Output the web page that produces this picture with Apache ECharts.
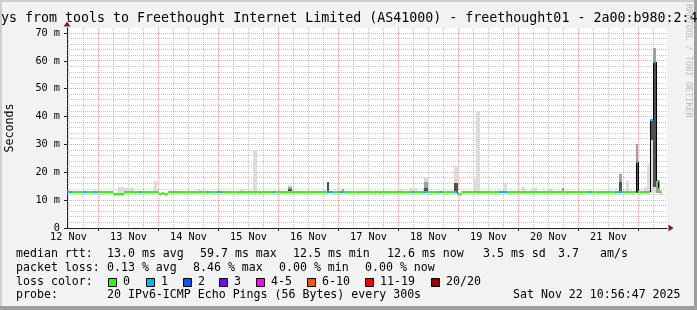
<!DOCTYPE html>
<html><head><meta charset="utf-8">
<script src="https://cdn.jsdelivr.net/npm/echarts@6.0.0/dist/echarts.min.js"></script>
<style>html,body{margin:0;padding:0;background:#f2f2f2}#c{width:697px;height:310px}</style>
</head><body><div id="c"></div><script>
// ---------- data (hours since 12 Nov 00:00) ----------
const xMin = 11.4, xMax = 251.4;
const yMax = 71.8;
const dayLabels = ['12 Nov','13 Nov','14 Nov','15 Nov','16 Nov','17 Nov','18 Nov','19 Nov','20 Nov','21 Nov'];
const dayLabelHours = [12,36,60,84,108,132,156,180,204,228];
const midnightHours = [24,48,72,96,120,144,168,192,216,240];
const yTicks = [0,10,20,30,40,50,60,70];
const yTickLabels = ['0','10 m','20 m','30 m','40 m','50 m','60 m','70 m'];

// median rtt (ms): segment start hour, value, lost pings
const medStart = [11.3,13.3,18.3,19.2,22.2,23.4,29.9,34.1,40.1,41.3,48.0,49.5,50.1,51.9,67.5,68.3,71.3,73.3,93.7,94.5,115.3,117.9,120.1,121.9,149.3,150.1,153.7,155.3,160.1,161.2,166.3,167.3,169.1,184.1,187.3,220.0,221.2,231.5,233.9,238.8,239.8,244.6,245.6,246.9,247.9,248.7];
const medValue = [12.8,12.8,12.8,12.8,12.8,12.8,12.2,12.8,12.8,12.8,12.2,12.6,12.2,12.8,12.8,12.8,12.8,12.8,12.8,12.8,12.8,12.8,12.8,12.8,12.8,12.8,12.8,12.8,12.8,12.8,12.8,12.1,12.8,12.8,12.8,12.8,12.8,12.8,12.8,23.8,12.8,38.8,59.7,16.4,13.9,12.8];
const medLoss  = [1,0,1,0,1,0,0,0,1,0,0,0,0,0,1,0,1,0,1,0,1,0,1,0,1,0,1,0,1,0,1,0,0,1,0,1,0,1,0,1,0,1,1,0,0,0];
const medEnd = 249.5;

// smoke (ping spread): [start hour, end hour, low ms, high ms]
const smokeLight = [
  [31.7,34.1,12.6,14.8],[34.1,38.1,12.6,14.2],[46.1,47.3,12.6,16.9],[63.7,65.3,12.6,13.5],
  [80.5,82.1,12.6,13.9],[85.7,87.3,12.6,28.0],[99.9,101.3,12.6,15.4],[143.3,145.7,12.6,13.9],
  [148.0,151.3,12.6,14.5],[154.0,155.6,12.6,18.4],[166.0,167.6,12.6,22.3],[173.7,175.0,12.6,18.4],
  [175.0,176.4,12.6,41.7],[186.0,187.3,12.6,16.0],[193.3,194.5,12.6,14.8],[197.3,199.3,12.6,14.2],
  [203.3,205.7,12.6,13.6],[234.9,236.1,12.6,16.9],[242.0,243.3,12.6,14.8],[243.3,244.6,12.6,23.0],
  [244.6,245.6,12.6,31.6],[245.6,246.9,12.6,14.8]
];
const smokeMid = [
  [99.9,101.3,12.6,14.6],[121.3,122.1,12.6,13.9],[154.0,155.6,12.6,16.5],[209.3,210.1,12.6,14.2],
  [232.0,233.3,12.6,19.4],[238.8,239.8,23.8,30.0],[245.6,246.9,59.7,64.5],[246.9,248.5,12.6,17.2]
];
const smokeDark = [
  [99.9,101.3,12.6,14.0],[115.3,116.3,12.6,16.6],[154.0,155.6,12.6,14.5],[166.0,167.6,12.6,16.0],
  [232.0,233.3,12.6,16.6],[238.8,239.8,12.6,23.8],[244.6,245.6,31.6,38.8],[245.6,246.9,14.8,59.7]
];

const lossLabels = ['0','1','2','3','4-5','6-10','11-19','20/20'];
const lossColors = ['#26ff00','#00b8ff','#0059ff','#7e00ff','#ff00ff','#ff5500','#ff0000','#a00000'];

const titleText = 'ys from tools to Freethought Internet Limited (AS41000) - freethought01 - 2a00:b980:2:4';
const rttRow = [['median rtt:',16],['13.0 ms avg',107],['59.7 ms max',200],['12.5 ms min',293],['12.6 ms now',387],['3.5 ms sd',483],['3.7',558],['am/s',600]];
const lossRow = [['packet loss:',16],['0.13 % avg',107],['8.46 % max',193],['0.00 % min',279],['0.00 % now',365]];
const probeRow = [['probe:',16],['20 IPv6-ICMP Echo Pings (56 Bytes) every 300s',107],['Sat Nov 22 10:56:47 2025',513]];

// ---------- build ----------
function lossColor(n){
  if(n<=0) return lossColors[0];
  if(n===1) return lossColors[1];
  if(n===2) return lossColors[2];
  if(n===3) return lossColors[3];
  if(n<=5) return lossColors[4];
  if(n<=10) return lossColors[5];
  if(n<=19) return lossColors[6];
  return lossColors[7];
}
const medSegs = medStart.map((s,i)=>[s, i+1<medStart.length?medStart[i+1]:medEnd, medValue[i], medLoss[i]]);

const MONO = 'DejaVu Sans Mono';
const minorC = 'rgba(143,143,143,0.5)', majorC = 'rgba(222,79,79,0.5)';
const vGrid = [];
for(let h=12; h<xMax; h+=6) vGrid.push([h, 0]);
const hGrid = [];
for(let v=2; v<yMax; v+=2) hGrid.push([xMin, v]);

function vGridRender(params, api){
  const h = api.value(0);
  const x = Math.floor(api.coord([h, 0])[0]) + 0.5;
  const cs = params.coordSys;
  return {type:'line', shape:{x1:x, y1:cs.y, x2:x, y2:cs.y+cs.height},
    style:{stroke:(h%24===0)?majorC:minorC, lineWidth:1, lineDash:[1,1]}};
}
function hGridRender(params, api){
  const v = api.value(1);
  const y = Math.floor(api.coord([xMin, v])[1]) + 0.5;
  const cs = params.coordSys;
  return {type:'line', shape:{x1:cs.x, y1:y, x2:cs.x+cs.width, y2:y},
    style:{stroke:(Math.round(v)%10===0)?majorC:minorC, lineWidth:1, lineDash:[1,1]}};
}
function rectRender(color){
  return function(params, api){
    const p0 = api.coord([api.value(0), api.value(3)]);
    const p1 = api.coord([api.value(1), api.value(2)]);
    const x0 = Math.round(p0[0]), x1 = Math.round(p1[0]);
    const y0 = Math.round(p0[1]), y1 = Math.round(p1[1]);
    return {type:'rect', shape:{x:x0, y:y0, width:Math.max(1,x1-x0), height:Math.max(1,y1-y0)}, style:{fill:color}};
  };
}
function medRender(params, api){
  const i = params.dataIndex;
  const p0 = api.coord([api.value(0), api.value(2)]);
  const p1 = api.coord([api.value(1), api.value(2)]);
  const x0 = Math.round(p0[0]), x1 = Math.round(p1[0]);
  const yc = Math.round(p0[1]);
  const children = [];
  if(i>0){
    const prev = medSegs[i-1][2];
    if(Math.abs(prev - api.value(2)) > 2){
      const yp = Math.round(api.coord([api.value(0), prev])[1]);
      children.push({type:'line', shape:{x1:x0+0.5, y1:yp, x2:x0+0.5, y2:yc}, style:{stroke:'#000', lineWidth:1}});
    }
  }
  children.push({type:'rect', shape:{x:x0, y:yc-1, width:Math.max(1,x1-x0), height:2}, style:{fill:lossColor(api.value(3))}});
  return {type:'group', children:children};
}

const graphics = [];
function txt(t, x, y, size){
  graphics.push({type:'text', x:x, y:y, z:100, silent:true,
    style:{text:t, fill:'#000', font:size+'px "'+MONO+'"',
      align:'left', verticalAlign:'middle', textAlign:'left', textVerticalAlign:'middle'}});
}
// frame shading
graphics.push({type:'rect', shape:{x:0,y:0,width:697,height:2}, style:{fill:'#cfcfcf'}, z:50, silent:true});
graphics.push({type:'rect', shape:{x:0,y:0,width:2,height:310}, style:{fill:'#cfcfcf'}, z:50, silent:true});
graphics.push({type:'rect', shape:{x:694,y:0,width:3,height:310}, style:{fill:'#9e9e9e'}, z:50, silent:true});
graphics.push({type:'rect', shape:{x:0,y:306,width:697,height:4}, style:{fill:'#9e9e9e'}, z:50, silent:true});

txt(titleText, 1, 19, 13.3);
graphics.push({type:'text', x:10, y:128, rotation:Math.PI/2, z:100, silent:true,
  style:{text:'Seconds', fill:'#000', font:'11.6px "'+MONO+'"', align:'center', verticalAlign:'middle', textAlign:'center', textVerticalAlign:'middle'}});
graphics.push({type:'text', x:688, y:61, rotation:-Math.PI/2, z:100, silent:true,
  style:{text:'RRDTOOL / TOBI OETIKER', fill:'#bdbdbd', font:'8.6px "'+MONO+'"', align:'center', verticalAlign:'middle', textAlign:'center', textVerticalAlign:'middle'}});

const LF = 11.6;
rttRow.forEach(p=>txt(p[0], p[1], 254.3, LF));
lossRow.forEach(p=>txt(p[0], p[1], 267.8, LF));
txt('loss color:', 16, 281.7, LF);
const boxX = [108,146,183,219,256,307,365,431];
lossLabels.forEach((l,i)=>{
  graphics.push({type:'rect', shape:{x:boxX[i]+0.5, y:278.5, width:8, height:8}, style:{fill:lossColors[i], stroke:'#000', lineWidth:1}, z:100, silent:true});
  txt(l, boxX[i]+15, 281.7, LF);
});
probeRow.forEach(p=>txt(p[0], p[1], 295.3, LF));

const chart = echarts.init(document.getElementById('c'), null, {renderer:'canvas'});
chart.setOption({
  animation:false,
  backgroundColor:'#f2f2f2',
  grid:{left:67, top:28, width:600, height:200, show:true, backgroundColor:'#ffffff', borderWidth:0, containLabel:false, outerBoundsMode:'none'},
  xAxis:[{
    type:'value', min:xMin, max:xMax, position:'bottom',
    axisLine:{show:true, onZero:false, lineStyle:{color:'#1f1f1f', width:1}},
    axisTick:{show:true, customValues:midnightHours, length:3, lineStyle:{color:'#1f1f1f'}},
    axisLabel:{show:true, customValues:dayLabelHours, margin:4, color:'#000', fontFamily:MONO, fontSize:10.2,
      formatter:function(v){ const i = dayLabelHours.indexOf(Math.round(v)); return i>=0?dayLabels[i]:''; }},
    splitLine:{show:false}
  },{
    type:'value', min:xMin, max:xMax, position:'bottom', offset:0,
    axisLine:{show:true, onZero:false, symbol:['none','triangle'], symbolSize:[7,5], symbolOffset:[0,4], lineStyle:{color:'#801f1f', width:0}},
    axisTick:{show:false}, axisLabel:{show:false}, splitLine:{show:false}
  }],
  yAxis:[{
    type:'value', min:0, max:yMax, interval:10, position:'left',
    axisLine:{show:true, onZero:false, lineStyle:{color:'#1f1f1f', width:1}},
    axisTick:{show:true, customValues:yTicks, length:3, lineStyle:{color:'#1f1f1f'}},
    axisLabel:{show:true, customValues:yTicks, margin:7, color:'#000', fontFamily:MONO, fontSize:10.2,
      formatter:function(v){ const i = yTicks.indexOf(Math.round(v)); return i>=0?yTickLabels[i]:''; }},
    splitLine:{show:false}
  },{
    type:'value', min:0, max:yMax, position:'left', offset:0,
    axisLine:{show:true, onZero:false, symbol:['none','triangle'], symbolSize:[7,5], symbolOffset:[0,4], lineStyle:{color:'#801f1f', width:0}},
    axisTick:{show:false}, axisLabel:{show:false}, splitLine:{show:false}
  }],
  series:[
    {type:'custom', name:'vgrid', z:1, silent:true, clip:false, renderItem:vGridRender, encode:{x:0, y:1}, data:vGrid},
    {type:'custom', name:'hgrid', z:1, silent:true, clip:false, renderItem:hGridRender, encode:{x:0, y:1}, data:hGrid},
    {type:'custom', name:'smokeLight', z:2, silent:true, clip:true, renderItem:rectRender('#dcdcdc'), encode:{x:[0,1], y:[2,3]}, data:smokeLight},
    {type:'custom', name:'smokeMid', z:3, silent:true, clip:true, renderItem:rectRender('#a0a0a0'), encode:{x:[0,1], y:[2,3]}, data:smokeMid},
    {type:'custom', name:'smokeDark', z:4, silent:true, clip:true, renderItem:rectRender('#505050'), encode:{x:[0,1], y:[2,3]}, data:smokeDark},
    {type:'custom', name:'median', z:6, silent:true, clip:true, renderItem:medRender, encode:{x:[0,1], y:2}, data:medSegs}
  ],
  graphic:graphics
});
</script></body></html>
